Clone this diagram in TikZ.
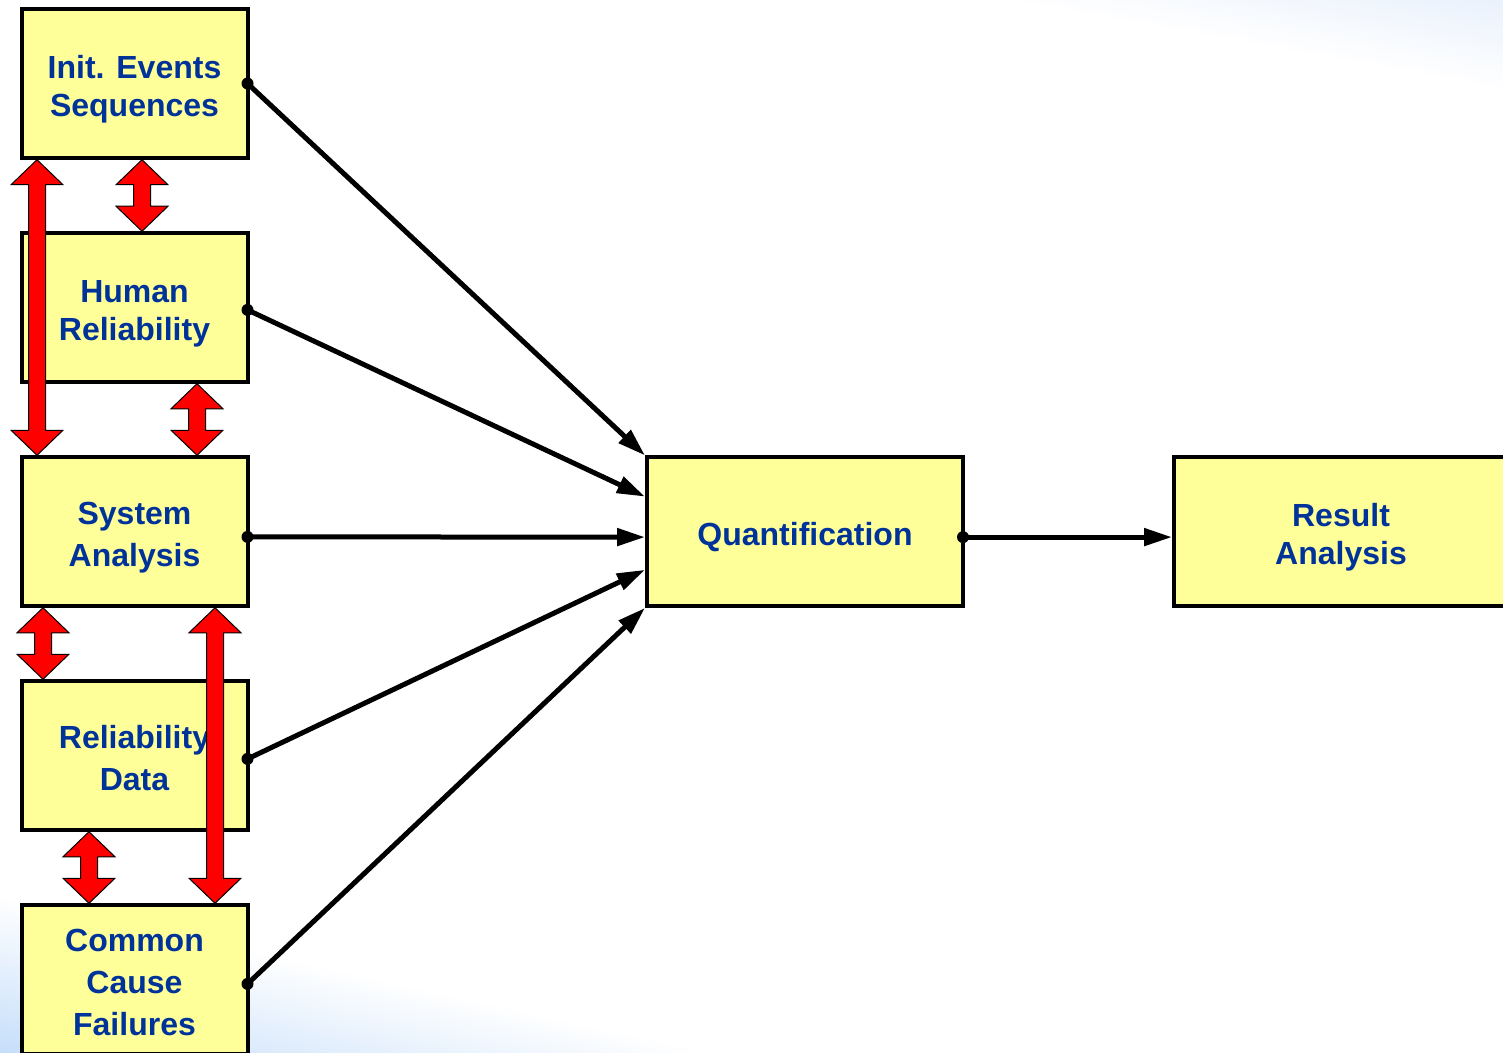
\documentclass[tikz,border=0pt]{standalone}
\usepackage{fontspec}
\setmainfont{Liberation Sans}
\usetikzlibrary{arrows.meta,calc}

\definecolor{boxfill}{RGB}{255,255,153}
\definecolor{labelblue}{RGB}{0,51,153}
\definecolor{skyblue}{RGB}{198,222,250}
\definecolor{paleblue}{RGB}{233,241,252}
\definecolor{linkred}{RGB}{255,0,0}

\tikzset{
  stage/.style={draw=black, line width=2pt, fill=boxfill, inner sep=0pt,
    minimum width=113pt, minimum height=74.25pt},
  stagetext/.style={inner sep=0pt, align=center, text=labelblue,
    font=\fontsize{16pt}{19pt}\selectfont\bfseries},
  feed/.style={line width=2.5pt, -{Triangle[length=14pt,width=8.5pt]}},
  coupling/.style={fill=linkred, draw=black, line width=0.5pt, line join=miter},
}

% red two-headed block arrow between two stacked boxes
% #1 upper box, #2 lower box, #3 horizontal offset from the west edge
\newcommand{\coupling}[3]{%
  \path ($(#1.south west)+(#3,0)$) coordinate (ct)
        ($(#2.north west)+(#3,0)$) coordinate (cb);
  \draw[coupling] (ct) -- ($(ct)+(-26,25)$) -- ($(ct)+(-8.5,25)$)
     -- ($(cb)+(-8.5,-25)$) -- ($(cb)+(-26,-25)$) -- (cb)
     -- ($(cb)+(26,-25)$) -- ($(cb)+(8.5,-25)$)
     -- ($(ct)+(8.5,25)$) -- ($(ct)+(26,25)$) -- cycle;
}

\begin{document}
\begin{tikzpicture}[x=0.5pt,y=-0.5pt]
\useasboundingbox (0,0) rectangle (1503,1053);
\clip (0,0) rectangle (1503,1053);

% background with soft blue washes in two corners
\fill[white] (0,0) rectangle (1503,1053);
\foreach \t in {0,3,...,240} {
  \pgfmathsetmacro\f{min(100,\t/154*100)}
  \fill[skyblue!\f!white, shift={(0,895)}, rotate=-12.4] (-600,\t) rectangle (3000,1200);
}
\foreach \t in {0,3,...,180} {
  \pgfmathsetmacro\f{min(100,\t/89*100)}
  \fill[paleblue!\f!white, shift={(1000,0)}, rotate=-10.2] (-1500,-\t) rectangle (2000,-1000);
}

% boxes
\node[stage] (init)    at (134.5,83.5)  {};
\node[stage] (human)   at (134.5,307.5) {};
\node[stage] (system)  at (134.5,531.5) {};
\node[stage] (reldata) at (134.5,755.5) {};
\node[stage] (ccf)     at (134.5,979.5) {};
\node[stage, minimum width=158pt] (quant)  at (805,531.7)  {};
\node[stage, minimum width=169pt] (result) at (1343,531.7) {};

% box captions
\node[stagetext] (init-t)    at ([yshift=-3pt]init.center)      {Init. Events\\Sequences};
\node[stagetext] (human-t)   at ([yshift=-3pt]human.center)     {Human\\Reliability};
\node[stagetext] (system-t)  at ([yshift=-3pt]system.center)    {System\\[2pt]Analysis};
\node[stagetext] (reldata-t) at ([yshift=-1.5pt]reldata.center) {Reliability\\[2pt]Data};
\node[stagetext] (ccf-t)     at ([yshift=-1.5pt]ccf.center)     {Common\\[2pt]Cause\\[2pt]Failures};
\node[stagetext] (quant-t)   at ([yshift=-2.5pt]quant.center)   {Quantification};
\node[stagetext] (result-t)  at ([xshift=-1pt,yshift=-3pt]result.center) {Result\\Analysis};

% start points of the feeds
\coordinate (s1) at ([xshift=-1pt]init.east);
\coordinate (s2) at ([xshift=-1pt,yshift=-1.2pt]human.east);
\coordinate (s3) at ([xshift=-1pt,yshift=-2.7pt]system.east);
\coordinate (s4) at ([xshift=-1pt,yshift=-1.7pt]reldata.east);
\coordinate (s5) at ([xshift=-1pt,yshift=-2.2pt]ccf.east);
\coordinate (s6) at ([xshift=-1pt,yshift=-2.7pt]quant.east);

% feeds into quantification and on to the results
\draw[feed] (s1) -- (quant.north west);
\draw[feed] (s2) -- ($(quant.north west)!0.27!(quant.south west)$);
\draw[feed] (s3) -- ([yshift=-2.7pt]quant.west);
\draw[feed] (s4) -- ($(quant.north west)!0.75!(quant.south west)$);
\draw[feed] (s5) -- (quant.south west);
\draw[feed] (s6) -- ([yshift=-2.7pt]result.west);
\foreach \s in {s1,s2,s3,s4,s5,s6} \fill (\s) circle (3pt);

% couplings between the analysis tasks
\coupling{init}{system}{17.5}
\coupling{init}{human}{122.5}
\coupling{human}{system}{177.5}
\coupling{system}{reldata}{23.5}
\coupling{system}{ccf}{195.5}
\coupling{reldata}{ccf}{69.5}
\end{tikzpicture}
\end{document}
